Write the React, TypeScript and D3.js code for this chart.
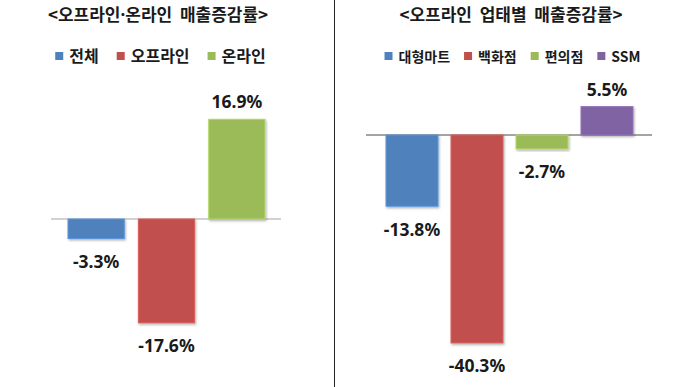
import React, { useEffect, useRef } from "react";
import * as d3 from "d3";

const leftTitleParts = ["<오프라인", "·", "온라인\u00a0\u00a0매출증감률>"];
const leftCategories = ["전체", "오프라인", "온라인"];
const leftValues = [-3.3, -17.6, 16.9];
const leftColors = ["#4F81BD", "#C0504D", "#9BBB59"];

const rightTitleParts = ["<오프라인\u00a0\u00a0업태별\u00a0\u00a0매출증감률>"];
const rightCategories = ["대형마트", "백화점", "편의점", "SSM"];
const rightValues = [-13.8, -40.3, -2.7, 5.5];
const rightColors = ["#4F81BD", "#C0504D", "#9BBB59", "#8064A2"];

const KR = "'Noto Sans CJK KR', 'Noto Sans', sans-serif";
const NUM = "'Noto Sans', 'Noto Sans CJK KR', sans-serif";

type Cfg = {
  titleParts: string[];
  titleX: number;
  titleSize: number;
  categories: string[];
  values: number[];
  colors: string[];
  xRange: [number, number];
  yDomain: [number, number];
  yRange: [number, number];
  baseX: [number, number];
  baseColor: string;
  legendCenter: number;
  legendSize: number;
  legendGap: number;
};

function drawChart(svg: d3.Selection<SVGSVGElement, unknown, null, undefined>, cfg: Cfg) {
  const g = svg.append("g");
  const tt = g
    .append("text")
    .attr("x", cfg.titleX)
    .attr("y", 21)
    .attr("text-anchor", "middle")
    .attr("font-family", KR)
    .attr("font-weight", "bold")
    .attr("font-size", cfg.titleSize)
    .attr("fill", "#1a1a1a");
  cfg.titleParts.forEach((p) => {
    const s = tt.append("tspan").text(p);
    if (p === "·") s.attr("font-family", NUM);
  });

  // legend
  const lg = g.append("g");
  let cx = 0;
  cfg.categories.forEach((c, i) => {
    lg.append("rect")
      .attr("x", cx)
      .attr("y", 52)
      .attr("width", 8)
      .attr("height", 8)
      .attr("fill", cfg.colors[i]);
    const t = lg
      .append("text")
      .attr("x", cx + 14)
      .attr("y", 62)
      .attr("font-family", KR)
      .attr("font-weight", "bold")
      .attr("font-size", cfg.legendSize)
      .attr("fill", "#1a1a1a")
      .text(c);
    const w = (t.node() as SVGTextElement).getComputedTextLength();
    cx += 14 + w + cfg.legendGap;
  });
  const totalW = cx - cfg.legendGap;
  lg.attr("transform", `translate(${cfg.legendCenter - totalW / 2},0)`);

  const x = d3
    .scaleBand<string>()
    .domain(cfg.categories)
    .range(cfg.xRange)
    .paddingInner(0.2)
    .paddingOuter(0);
  const y = d3.scaleLinear().domain(cfg.yDomain).range(cfg.yRange);

  g.append("line")
    .attr("x1", cfg.baseX[0])
    .attr("x2", cfg.baseX[1])
    .attr("y1", y(0))
    .attr("y2", y(0))
    .attr("stroke", cfg.baseColor)
    .attr("stroke-width", 1.2);

  cfg.categories.forEach((c, i) => {
    const v = cfg.values[i];
    const col = d3.color(cfg.colors[i])!;
    const top = Math.min(y(v), y(0));
    const h = Math.abs(y(v) - y(0));
    g.append("rect")
      .attr("x", x(c)!)
      .attr("y", top)
      .attr("width", x.bandwidth())
      .attr("height", h)
      .attr("fill", cfg.colors[i])
      .attr("stroke", (col as any).brighter(0.4).formatHex())
      .attr("stroke-width", 1)
      .attr("filter", "url(#shadow)");
    const ly = v >= 0 ? y(v) - 11 : y(v) + 29.5;
    g.append("text")
      .attr("x", x(c)! + x.bandwidth() / 2)
      .attr("y", ly)
      .attr("text-anchor", "middle")
      .attr("font-family", NUM)
      .attr("font-weight", "bold")
      .attr("font-size", 17.5)
      .attr("fill", "#1a1a1a")
      .text(`${v.toFixed(1)}%`);
  });
}

export default function App() {
  const ref = useRef<SVGSVGElement>(null);
  useEffect(() => {
    const svg = d3.select(ref.current!);
    svg.selectAll("*").remove();
    const defs = svg.append("defs");
    const f = defs
      .append("filter")
      .attr("id", "shadow")
      .attr("x", "-20%")
      .attr("y", "-20%")
      .attr("width", "140%")
      .attr("height", "140%");
    f.append("feDropShadow")
      .attr("dx", 1)
      .attr("dy", 1.5)
      .attr("stdDeviation", 1)
      .attr("flood-color", "#000")
      .attr("flood-opacity", 0.3);

    svg
      .append("rect")
      .attr("width", 680)
      .attr("height", 387)
      .attr("fill", "#fff");

    drawChart(svg, {
      titleParts: leftTitleParts,
      titleX: 158,
      titleSize: 17,
      categories: leftCategories,
      values: leftValues,
      colors: leftColors,
      xRange: [68, 265],
      yDomain: [-20, 20],
      yRange: [337, 101],
      baseX: [51, 281],
      baseColor: "#a6a6a6",
      legendCenter: 160.5,
      legendSize: 16,
      legendGap: 18,
    });
    drawChart(svg, {
      titleParts: rightTitleParts,
      titleX: 511,
      titleSize: 17,
      categories: rightCategories,
      values: rightValues,
      colors: rightColors,
      xRange: [386, 633],
      yDomain: [-45, 10],
      yRange: [367.2, 83.4],
      baseX: [366, 652],
      baseColor: "#4a4a4a",
      legendCenter: 512.5,
      legendSize: 14,
      legendGap: 14,
    });

    svg
      .append("line")
      .attr("x1", 334.5)
      .attr("x2", 334.5)
      .attr("y1", 0)
      .attr("y2", 387)
      .attr("stroke", "#222")
      .attr("stroke-width", 1);
  }, []);
  return (
    <svg
      ref={ref}
      width={680}
      height={387}
      style={{ position: "absolute", left: 0, top: 0 }}
    />
  );
}
